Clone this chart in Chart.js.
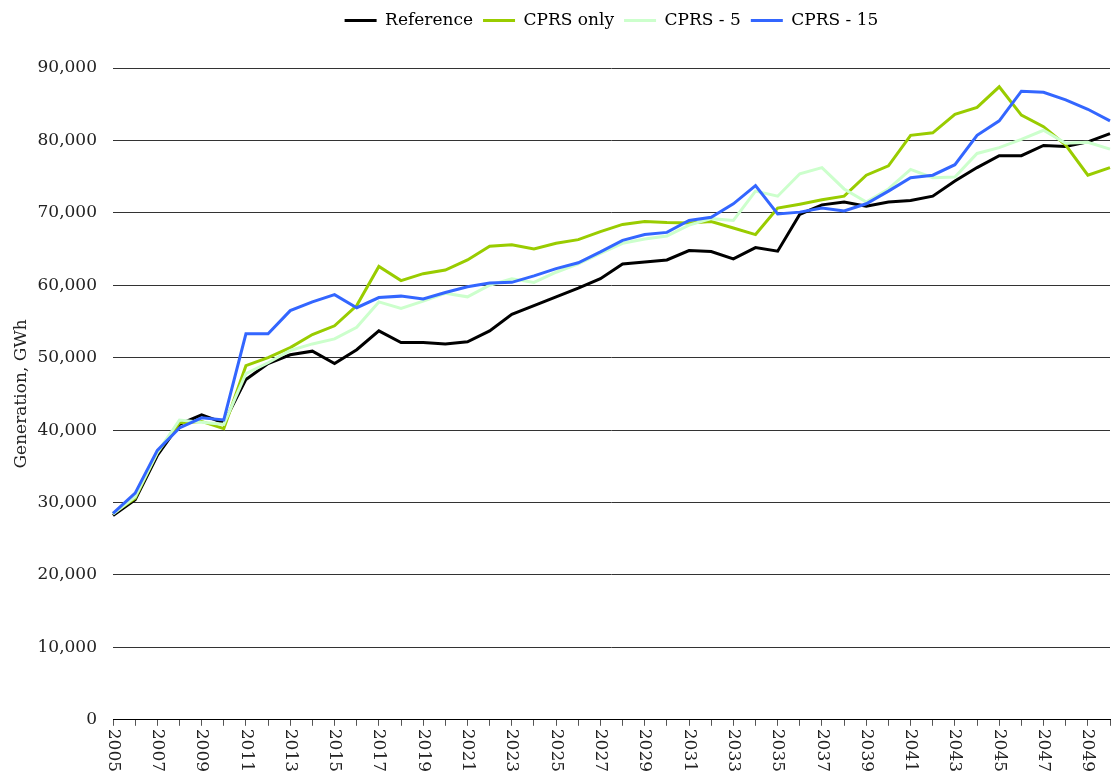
<!DOCTYPE html>
<html>
<head>
<meta charset="utf-8">
<script src="https://cdn.jsdelivr.net/npm/chart.js@4"></script>
<style>
  body { margin: 0; background: #fff; }
  #wrap { width: 1119px; height: 778px; position: relative; }
</style>
</head>
<body>
<div id="wrap"><canvas id="myChart"></canvas></div>
<script>
const years = [];
for (let y = 2005; y <= 2050; y++) years.push(String(y));

const reference = [28200, 30400, 36500, 40800, 42100, 41000, 47000, 49200, 50400, 50900,
    49200, 51100, 53700, 52100, 52100, 51900, 52200, 53700, 56000, 57200,
    58400, 59600, 60900, 62950, 63200, 63500, 64800, 64650, 63650, 65200,
    64700, 69800, 71100, 71500, 70900, 71500, 71700, 72300, 74400, 76250,
    77900, 77900, 79300, 79150, 79800, 80950];
const cprsOnly = [28500, 30600, 36900, 41000, 41200, 40200, 48900, 50000, 51400, 53200,
    54400, 57200, 62600, 60650, 61600, 62100, 63500, 65400, 65600, 65000,
    65800, 66300, 67400, 68400, 68800, 68650, 68600, 68800, 67900, 67000,
    70650, 71200, 71800, 72300, 75200, 76500, 80700, 81050, 83600, 84550,
    87400, 83500, 81900, 79350, 75200, 76250];
const cprs5 = [28400, 30800, 36900, 41400, 41100, 40800, 47800, 49300, 51000, 51900,
    52600, 54200, 57700, 56800, 57800, 58900, 58400, 60000, 60900, 60400,
    61800, 62950, 64400, 65800, 66400, 66800, 68300, 69200, 68950, 73000,
    72300, 75400, 76250, 73300, 71500, 73300, 76000, 74850, 74950, 78200,
    79000, 80150, 81400, 79600, 79750, 78800];
const cprs15 = [28500, 31300, 37200, 40300, 41700, 41400, 53300, 53300, 56500, 57700,
    58700, 56900, 58300, 58500, 58100, 59000, 59800, 60300, 60400, 61300,
    62300, 63100, 64600, 66200, 67000, 67300, 68950, 69400, 71250, 73750,
    69850, 70100, 70650, 70250, 71250, 73000, 74850, 75200, 76650, 80700,
    82700, 86800, 86650, 85600, 84300, 82700];

const FONT = '"DejaVu Serif", serif';

// x labels read top-to-bottom, so draw them ourselves at the scale's tick positions
const xLabelPlugin = {
    id: 'xLabels',
    afterDraw(chart) {
        const xs = chart.scales.x;
        const c = chart.ctx;
        c.save();
        c.font = '17px ' + FONT;
        c.fillStyle = '#222';
        c.textAlign = 'left';
        c.textBaseline = 'middle';
        xs.ticks.forEach((t, i) => {
            if (i % 2 !== 0) return;
            c.save();
            c.translate(xs.getPixelForTick(i), xs.top + 9);
            c.rotate(Math.PI / 2);
            c.fillText(years[i], 0, 0);
            c.restore();
        });
        c.restore();
    }
};

// extra room under the legend
const legendGap = {
    id: 'legendGap',
    beforeInit(chart) {
        const fit = chart.legend.fit;
        chart.legend.fit = function () {
            fit.call(this);
            this.height += 29;
        };
    }
};

document.addEventListener('DOMContentLoaded', () => {
    const ctx = document.getElementById('myChart').getContext('2d');
    const line = (label, data, color, order) => ({
        label, data, order,
        borderColor: color,
        backgroundColor: color,
        borderWidth: 3,
        pointRadius: 0,
        tension: 0
    });

    new Chart(ctx, {
        type: 'line',
        data: {
            labels: years,
            datasets: [
                line('Reference', reference, '#000000', 3),
                line('CPRS only', cprsOnly, '#99cc00', 2),
                line('CPRS - 5', cprs5, '#ccffcc', 1),
                line('CPRS - 15', cprs15, '#3366ff', 0)
            ]
        },
        options: {
            responsive: true,
            maintainAspectRatio: false,
            animation: false,
            layout: { padding: { left: 0, right: 9, top: 2, bottom: 51 } },
            plugins: {
                tooltip: { enabled: false },
                legend: {
                    position: 'top',
                    fullSize: false,
                    labels: {
                        usePointStyle: true,
                        pointStyle: 'line',
                        pointStyleWidth: 32,
                        boxHeight: 10,
                        padding: 10,
                        color: '#000',
                        font: { family: FONT, size: 17 },
                        sort: (a, b) => a.datasetIndex - b.datasetIndex
                    }
                }
            },
            scales: {
                x: {
                    offset: false,
                    grid: {
                        display: true,
                        drawOnChartArea: false,
                        drawTicks: true,
                        tickLength: 6,
                        color: '#555'
                    },
                    border: { display: true, color: '#000', width: 1 },
                    ticks: {
                        autoSkip: false,
                        maxRotation: 0,
                        padding: 0,
                        color: 'rgba(0,0,0,0)',
                        font: { size: 1 },
                        callback: () => ''
                    }
                },
                y: {
                    min: 0,
                    max: 90000,
                    afterFit: scale => { scale.width = 113; },
                    grid: { color: '#333', lineWidth: 1, drawTicks: false },
                    border: { display: false },
                    ticks: {
                        stepSize: 10000,
                        padding: 16,
                        color: '#222',
                        font: { family: FONT, size: 17 },
                        callback: v => v.toLocaleString('en-US')
                    },
                    title: {
                        display: true,
                        text: 'Generation, GWh',
                        color: '#222',
                        font: { family: FONT, size: 17 },
                        padding: { top: 11, bottom: 6 }
                    }
                }
            }
        },
        plugins: [xLabelPlugin, legendGap]
    });
});
</script>
</body>
</html>
